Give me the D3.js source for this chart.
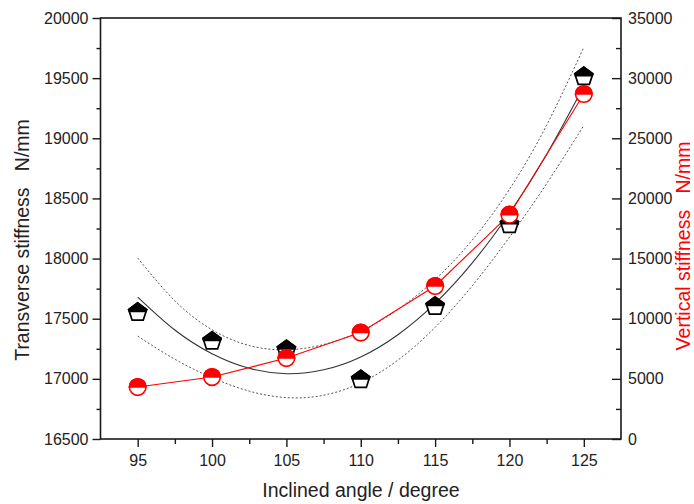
<!DOCTYPE html>
<html>
<head>
<meta charset="utf-8">
<script src="https://cdn.jsdelivr.net/npm/d3@7"></script>
<style>
  html, body { margin: 0; padding: 0; background: #fff; }
  svg { display: block; }
  text { font-family: Arial, "Liberation Sans", sans-serif; }
</style>
</head>
<body>
<svg id="chart" width="694" height="504"></svg>
<script>
// ---- data ----
const angles = [95, 100, 105, 110, 115, 120, 125];
const transverse = [17560, 17320, 17250, 17000, 17610, 18290, 19520];
const vertical = [4320, 5150, 6730, 8850, 12720, 18650, 28680];

const fitX = [95, 97.5, 100, 102.5, 105, 107.5, 110, 112.5, 115, 117.5, 120, 122.5, 125];
const fitY = [17680, 17406, 17209, 17088, 17043, 17075, 17182, 17367, 17627, 17964, 18377, 18866, 19432];
const upperY = [18005, 17649, 17408, 17277, 17242, 17285, 17397, 17577, 17826, 18154, 18576, 19109, 19757];
const lowerY = [17355, 17163, 17010, 16898, 16844, 16864, 16967, 17156, 17428, 17774, 18178, 18623, 19107];

const xTicks = [95, 100, 105, 110, 115, 120, 125];
const xMinor = [97.5, 102.5, 107.5, 112.5, 117.5, 122.5];
const leftTicks = [16500, 17000, 17500, 18000, 18500, 19000, 19500, 20000];
const leftMinor = [16750, 17250, 17750, 18250, 18750, 19250, 19750];
const rightTicks = [0, 5000, 10000, 15000, 20000, 25000, 30000, 35000];
const rightMinor = [2500, 7500, 12500, 17500, 22500, 27500, 32500];

const xTitle = "Inclined angle / degree";
const leftTitle = "Transverse stiffness   N/mm";
const rightTitle = "Vertical stiffness   N/mm";

// ---- layout ----
const L = 100.5, R = 621, T = 18, B = 439;
const svg = d3.select("#chart");

const x = d3.scaleLinear().domain([92.5, 127.5]).range([L, R]);
const yL = d3.scaleLinear().domain([16500, 20000]).range([B, T]);
const yR = d3.scaleLinear().domain([0, 35000]).range([B, T]);

const axisColor = "#1a1a1a";

function styleAxis(g) {
  g.select(".domain").remove();
  g.selectAll(".tick line").attr("stroke", axisColor).attr("stroke-width", 1.4);
  g.selectAll(".tick text").attr("fill", "#222").style("font-size", "16px")
    .style("font-family", "Arial, 'Liberation Sans', sans-serif");
}

// bottom
svg.append("g").attr("transform", `translate(0,${B})`)
  .call(d3.axisBottom(x).tickValues(xTicks).tickSize(8).tickPadding(8).tickFormat(d3.format("d")))
  .call(styleAxis);
svg.append("g").attr("transform", `translate(0,${B})`)
  .call(d3.axisBottom(x).tickValues(xMinor).tickSize(5).tickFormat(""))
  .call(styleAxis);

// left
svg.append("g").attr("transform", `translate(${L},0)`)
  .call(d3.axisLeft(yL).tickValues(leftTicks).tickSize(8).tickPadding(4).tickFormat(d3.format("d")))
  .call(styleAxis);
svg.append("g").attr("transform", `translate(${L},0)`)
  .call(d3.axisLeft(yL).tickValues(leftMinor).tickSize(4).tickFormat(""))
  .call(styleAxis);

// right (ticks inward)
svg.append("g").attr("transform", `translate(${R},0)`)
  .call(d3.axisRight(yR).tickValues(rightTicks).tickSizeInner(-9).tickSizeOuter(0).tickPadding(7).tickFormat(d3.format("d")))
  .call(styleAxis);
svg.append("g").attr("transform", `translate(${R},0)`)
  .call(d3.axisRight(yR).tickValues(rightMinor).tickSizeInner(-5).tickSizeOuter(0).tickFormat(""))
  .call(styleAxis);

// frame
svg.append("rect").attr("x", L).attr("y", T).attr("width", R - L).attr("height", B - T)
  .attr("fill", "none").attr("stroke", axisColor).attr("stroke-width", 1.6);

// titles
svg.append("text").attr("x", 361).attr("y", 497).attr("text-anchor", "middle")
  .style("font-size", "19.5px").attr("fill", "#222").text(xTitle);
svg.append("text").attr("transform", `translate(29,240) rotate(-90)`).attr("text-anchor", "middle")
  .style("font-size", "19.5px").style("white-space", "pre").attr("xml:space", "preserve")
  .attr("fill", "#222").text(leftTitle);
svg.append("text").attr("transform", `translate(690,246) rotate(-90)`).attr("text-anchor", "middle")
  .style("font-size", "19.5px").style("white-space", "pre").attr("xml:space", "preserve")
  .attr("fill", "#ff0000").text(rightTitle);

// ---- lines ----
const fitPts = fitX.map((d, i) => ({ x: d, y: fitY[i], u: upperY[i], l: lowerY[i] }));
const lineGen = (acc) => d3.line().x(d => x(d.x)).y(d => yL(acc(d))).curve(d3.curveNatural);

svg.append("path").datum(fitPts).attr("d", lineGen(d => d.u))
  .attr("fill", "none").attr("stroke", "#555").attr("stroke-width", 1).attr("stroke-dasharray", "2,2");
svg.append("path").datum(fitPts).attr("d", lineGen(d => d.l))
  .attr("fill", "none").attr("stroke", "#555").attr("stroke-width", 1).attr("stroke-dasharray", "2,2");
svg.append("path").datum(fitPts).attr("d", lineGen(d => d.y))
  .attr("fill", "none").attr("stroke", "#333").attr("stroke-width", 1.1);

const vPts = angles.map((a, i) => ({ x: a, v: vertical[i] }));
svg.append("path").datum(vPts)
  .attr("d", d3.line().x(d => x(d.x)).y(d => yR(d.v)))
  .attr("fill", "none").attr("stroke", "#ff0000").attr("stroke-width", 1.1);

// ---- markers ----
// pentagon: top half black, bottom half white
const PR = 9.5;
const pOff = PR * 0.0955; // center the bounding box
function pentPts(r) {
  return d3.range(5).map(k => {
    const a = (-90 + 72 * k) * Math.PI / 180;
    return [r * Math.cos(a), r * Math.sin(a) + pOff];
  });
}
const fullPent = pentPts(PR);
const cutY = 0;
const topHalf = (() => {
  const pts = [];
  const n = fullPent.length;
  for (let i = 0; i < n; i++) {
    const p = fullPent[i], q = fullPent[(i + 1) % n];
    if (p[1] <= cutY) pts.push(p);
    if ((p[1] - cutY) * (q[1] - cutY) < 0) {
      const t = (cutY - p[1]) / (q[1] - p[1]);
      pts.push([p[0] + t * (q[0] - p[0]), cutY]);
    }
  }
  return pts;
})();

const tPts = angles.map((a, i) => ({ x: a, v: transverse[i] }));
const pg = svg.append("g").selectAll("g").data(tPts).join("g")
  .attr("transform", d => `translate(${x(d.x)},${yL(d.v)})`);
pg.append("polygon").attr("points", fullPent.map(p => p.join(",")).join(" "))
  .attr("fill", "#fff").attr("stroke", "#000").attr("stroke-width", 1.7).attr("stroke-linejoin", "miter");
pg.append("polygon").attr("points", topHalf.map(p => p.join(",")).join(" "))
  .attr("fill", "#000").attr("stroke", "#000").attr("stroke-width", 1.7);

// circles: top half red, bottom half white
const CR = 8.3;
const cg = svg.append("g").selectAll("g").data(vPts).join("g")
  .attr("transform", d => `translate(${x(d.x)},${yR(d.v)})`);
cg.append("circle").attr("r", CR).attr("fill", "#fff").attr("stroke", "#ff0000").attr("stroke-width", 1.6);
cg.append("path").attr("d", `M${-CR},0 A${CR},${CR} 0 0 1 ${CR},0 Z`)
  .attr("fill", "#ff0000").attr("stroke", "#ff0000").attr("stroke-width", 1.6);
</script>
</body>
</html>
